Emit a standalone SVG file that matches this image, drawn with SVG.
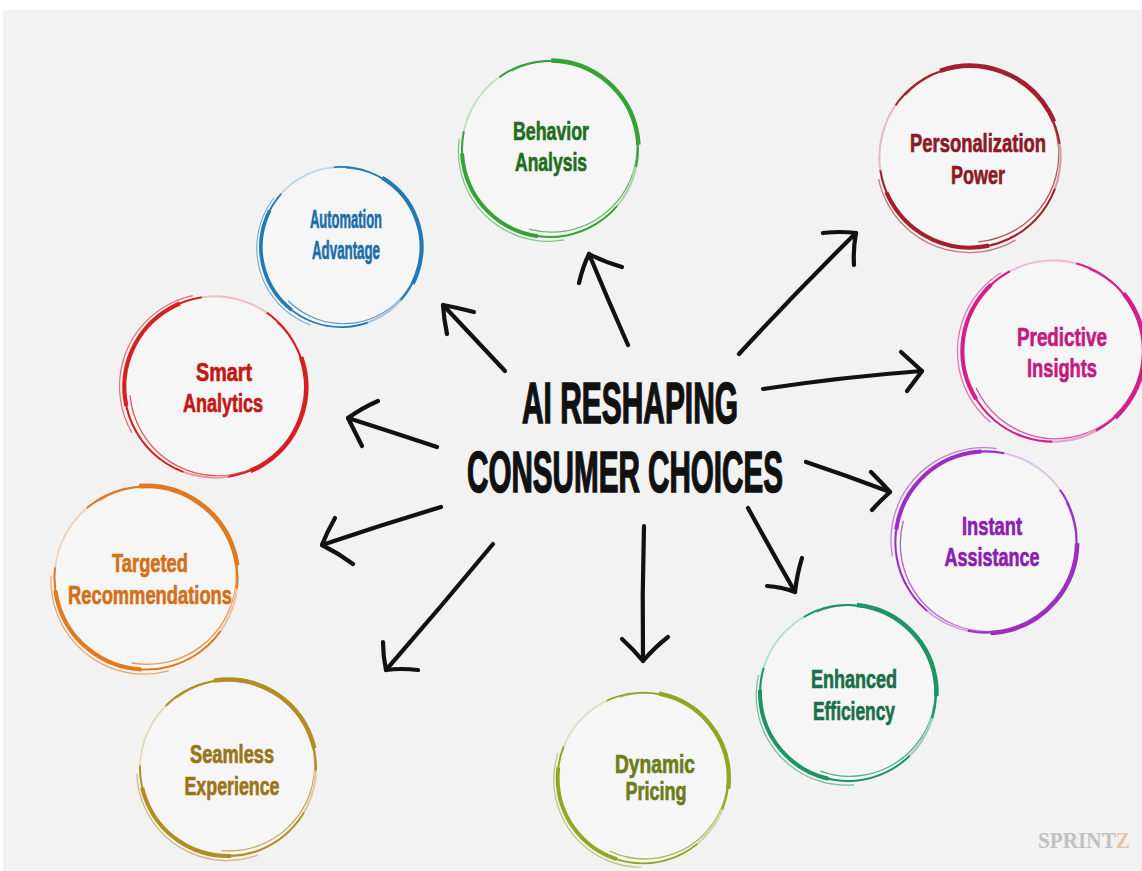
<svg xmlns="http://www.w3.org/2000/svg" xmlns:xlink="http://www.w3.org/1999/xlink" width="1142" height="871" viewBox="0 0 1142 871">
  <style>
    .lbl { font-family: "Liberation Sans Narrow", "Liberation Sans", Arial, sans-serif; font-weight: bold; font-size: 26px; text-anchor: middle; stroke-width: 0.7; paint-order: stroke; }
    .title { font-family: "Liberation Sans Narrow", "Liberation Sans", Arial, sans-serif; font-weight: bold; font-size: 58px; fill: #111; stroke: #111; stroke-width: 1.6; text-anchor: middle; }
    .arrow { fill: none; stroke: #111; stroke-width: 4.2; stroke-linecap: round; stroke-linejoin: round; }
    .mark { font-family: "Liberation Serif", "Times New Roman", serif; font-weight: bold; font-size: 24px; }
  </style>
  <defs>
    <!-- brush-style ring drawn at radius 88 around the origin; colour comes from currentColor -->
    <g id="ring">
      <circle r="88" fill="#f6f6f6" stroke="currentColor" stroke-width="2"/>
      <circle cx="2" cy="-2" r="85.5" fill="none" stroke="currentColor" stroke-width="1.3" opacity="0.75" pathLength="100" stroke-dasharray="62 38" stroke-dashoffset="-70"/>
      <circle r="88.5" fill="none" stroke="currentColor" stroke-width="4.5" pathLength="100" stroke-dasharray="24 76" stroke-dashoffset="-78"/>
      <circle r="88" fill="none" stroke="currentColor" stroke-width="4" pathLength="100" stroke-dasharray="22 78" stroke-dashoffset="-30"/>
      <circle cx="-2" cy="2" r="90" fill="none" stroke="currentColor" stroke-width="1.2" opacity="0.6" pathLength="100" stroke-dasharray="30 70" stroke-dashoffset="-25"/>
      <circle r="88" fill="none" stroke="#f4f4f4" stroke-width="4" opacity="0.75" pathLength="100" stroke-dasharray="12 88" stroke-dashoffset="-56"/>
      <circle r="88" fill="none" stroke="#f4f4f4" stroke-width="3" opacity="0.6" pathLength="100" stroke-dasharray="8 92" stroke-dashoffset="-6"/>
    </g>
    <linearGradient id="markFill" x1="0" y1="0" x2="1" y2="0">
      <stop offset="0.84" stop-color="#9a9a9a"/>
      <stop offset="0.86" stop-color="#e8a060"/>
    </linearGradient>
  </defs>

  <!-- page -->
  <rect width="1142" height="871" fill="#ffffff"/>
  <rect x="3" y="10" width="1139" height="861" fill="#f2f2f2"/>

  <!-- watermark -->
  <g id="watermark" opacity="0.55">
    <text class="mark" x="1038" y="848" fill="url(#markFill)" textLength="92" lengthAdjust="spacingAndGlyphs">SPRINTZ</text>
  </g>

  <!-- nodes -->
  <g id="node-behavior" color="#36a236">
    <use xlink:href="#ring" transform="translate(550,149) rotate(-10)"/>
    <text class="lbl" fill="#1e6e1e" stroke="#1e6e1e"><tspan x="551" y="140" textLength="76" lengthAdjust="spacingAndGlyphs">Behavior</tspan><tspan x="551" y="171" textLength="72" lengthAdjust="spacingAndGlyphs">Analysis</tspan></text>
  </g>

  <g id="node-automation" color="#1f7ab6">
    <use xlink:href="#ring" transform="translate(341,247) rotate(20) scale(0.91)"/>
    <text class="lbl" fill="#1a6ea8" stroke="#1a6ea8"><tspan x="346" y="228" textLength="72" lengthAdjust="spacingAndGlyphs">Automation</tspan><tspan x="346" y="259" textLength="68" lengthAdjust="spacingAndGlyphs">Advantage</tspan></text>
  </g>

  <g id="node-personalization" color="#a31f2c">
    <use xlink:href="#ring" transform="translate(970,157) rotate(-30) scale(1.03)"/>
    <text class="lbl" fill="#8c1a24" stroke="#8c1a24"><tspan x="978" y="152" textLength="136" lengthAdjust="spacingAndGlyphs">Personalization</tspan><tspan x="978" y="184" textLength="54" lengthAdjust="spacingAndGlyphs">Power</tspan></text>
  </g>

  <g id="node-predictive" color="#d21f8c">
    <use xlink:href="#ring" transform="translate(1053,351) rotate(40) scale(1.03)"/>
    <text class="lbl" fill="#c21c80" stroke="#c21c80"><tspan x="1062" y="346" textLength="90" lengthAdjust="spacingAndGlyphs">Predictive</tspan><tspan x="1062" y="377" textLength="70" lengthAdjust="spacingAndGlyphs">Insights</tspan></text>
  </g>

  <g id="node-smart" color="#d62020">
    <use xlink:href="#ring" transform="translate(215,387) rotate(60) scale(1.03)"/>
    <text class="lbl" fill="#c21818" stroke="#c21818"><tspan x="224" y="381" textLength="56" lengthAdjust="spacingAndGlyphs">Smart</tspan><tspan x="223" y="412" textLength="80" lengthAdjust="spacingAndGlyphs">Analytics</tspan></text>
  </g>

  <g id="node-targeted" color="#e07a1e">
    <use xlink:href="#ring" transform="translate(146,578) rotate(-15) scale(1.04)"/>
    <text class="lbl" fill="#d2701a" stroke="#d2701a"><tspan x="150" y="572" textLength="76" lengthAdjust="spacingAndGlyphs">Targeted</tspan><tspan x="150" y="604" textLength="164" lengthAdjust="spacingAndGlyphs">Recommendations</tspan></text>
  </g>

  <g id="node-instant" color="#9c2fc2">
    <use xlink:href="#ring" transform="translate(986,542) rotate(80) scale(1.03)"/>
    <text class="lbl" fill="#8a20b0" stroke="#8a20b0"><tspan x="992" y="535" textLength="60" lengthAdjust="spacingAndGlyphs">Instant</tspan><tspan x="992" y="566" textLength="95" lengthAdjust="spacingAndGlyphs">Assistance</tspan></text>
  </g>

  <g id="node-enhanced" color="#1c9464">
    <use xlink:href="#ring" transform="translate(848,693) rotate(-5)"/>
    <text class="lbl" fill="#1a6e4a" stroke="#1a6e4a"><tspan x="854" y="688" textLength="86" lengthAdjust="spacingAndGlyphs">Enhanced</tspan><tspan x="854" y="720" textLength="82" lengthAdjust="spacingAndGlyphs">Efficiency</tspan></text>
  </g>

  <g id="node-dynamic" color="#8ea822">
    <use xlink:href="#ring" transform="translate(643,778) scale(0.97)"/>
    <text class="lbl" fill="#6b7c18" stroke="#6b7c18"><tspan x="655" y="773" textLength="80" lengthAdjust="spacingAndGlyphs">Dynamic</tspan><tspan x="656" y="800" textLength="61" lengthAdjust="spacingAndGlyphs">Pricing</tspan></text>
  </g>

  <g id="node-seamless" color="#b48c22">
    <use xlink:href="#ring" transform="translate(228,768) rotate(-20)"/>
    <text class="lbl" fill="#9a7418" stroke="#9a7418"><tspan x="232" y="763" textLength="84" lengthAdjust="spacingAndGlyphs">Seamless</tspan><tspan x="232" y="795" textLength="95" lengthAdjust="spacingAndGlyphs">Experience</tspan></text>
  </g>

  <!-- centre title -->
  <g id="node-title">
    <text class="title" x="630" y="423" textLength="216" lengthAdjust="spacingAndGlyphs">AI RESHAPING</text>
    <text class="title" x="625" y="492" textLength="316" lengthAdjust="spacingAndGlyphs">CONSUMER CHOICES</text>
  </g>

  <!-- connectors: hand-drawn arrows from the title outwards -->
  <g id="connectors">
    <!-- to Behavior Analysis -->
    <path class="arrow" d="M628 345 Q608 300 589 254"/>
    <path class="arrow" d="M579 283 Q583 266 589 254 Q604 262 622 267"/>
    <!-- to Personalization Power -->
    <path class="arrow" d="M739 354 Q796 292 856 233"/>
    <path class="arrow" d="M823 233 Q840 231 856 233 Q853 249 854 265"/>
    <!-- to Predictive Insights -->
    <path class="arrow" d="M763 389 Q842 377 922 371"/>
    <path class="arrow" d="M901 352 Q912 362 922 371 Q914 382 907 391"/>
    <!-- to Instant Assistance -->
    <path class="arrow" d="M806 462 Q848 476 890 492"/>
    <path class="arrow" d="M871 472 Q882 483 890 492 Q880 501 872 510"/>
    <!-- to Enhanced Efficiency -->
    <path class="arrow" d="M748 508 Q771 550 795 592"/>
    <path class="arrow" d="M767 586 Q782 587 795 592 Q797 574 802 558"/>
    <!-- to Dynamic Pricing -->
    <path class="arrow" d="M644 526 Q642 594 643 661"/>
    <path class="arrow" d="M622 639 Q634 650 643 661 Q655 647 668 637"/>
    <!-- to Seamless Experience -->
    <path class="arrow" d="M493 544 Q440 608 386 670"/>
    <path class="arrow" d="M383 642 Q383 656 386 670 Q401 668 418 670"/>
    <!-- to Targeted Recommendations -->
    <path class="arrow" d="M441 507 Q381 525 322 545"/>
    <path class="arrow" d="M335 518 Q327 532 322 545 Q338 553 353 564"/>
    <!-- to Smart Analytics -->
    <path class="arrow" d="M437 447 Q392 432 348 418"/>
    <path class="arrow" d="M378 401 Q362 408 348 418 Q355 432 362 446"/>
    <!-- to Automation Advantage -->
    <path class="arrow" d="M505 371 Q474 338 443 305"/>
    <path class="arrow" d="M447 334 Q444 320 443 305 Q459 308 474 312"/>
  </g>
</svg>
